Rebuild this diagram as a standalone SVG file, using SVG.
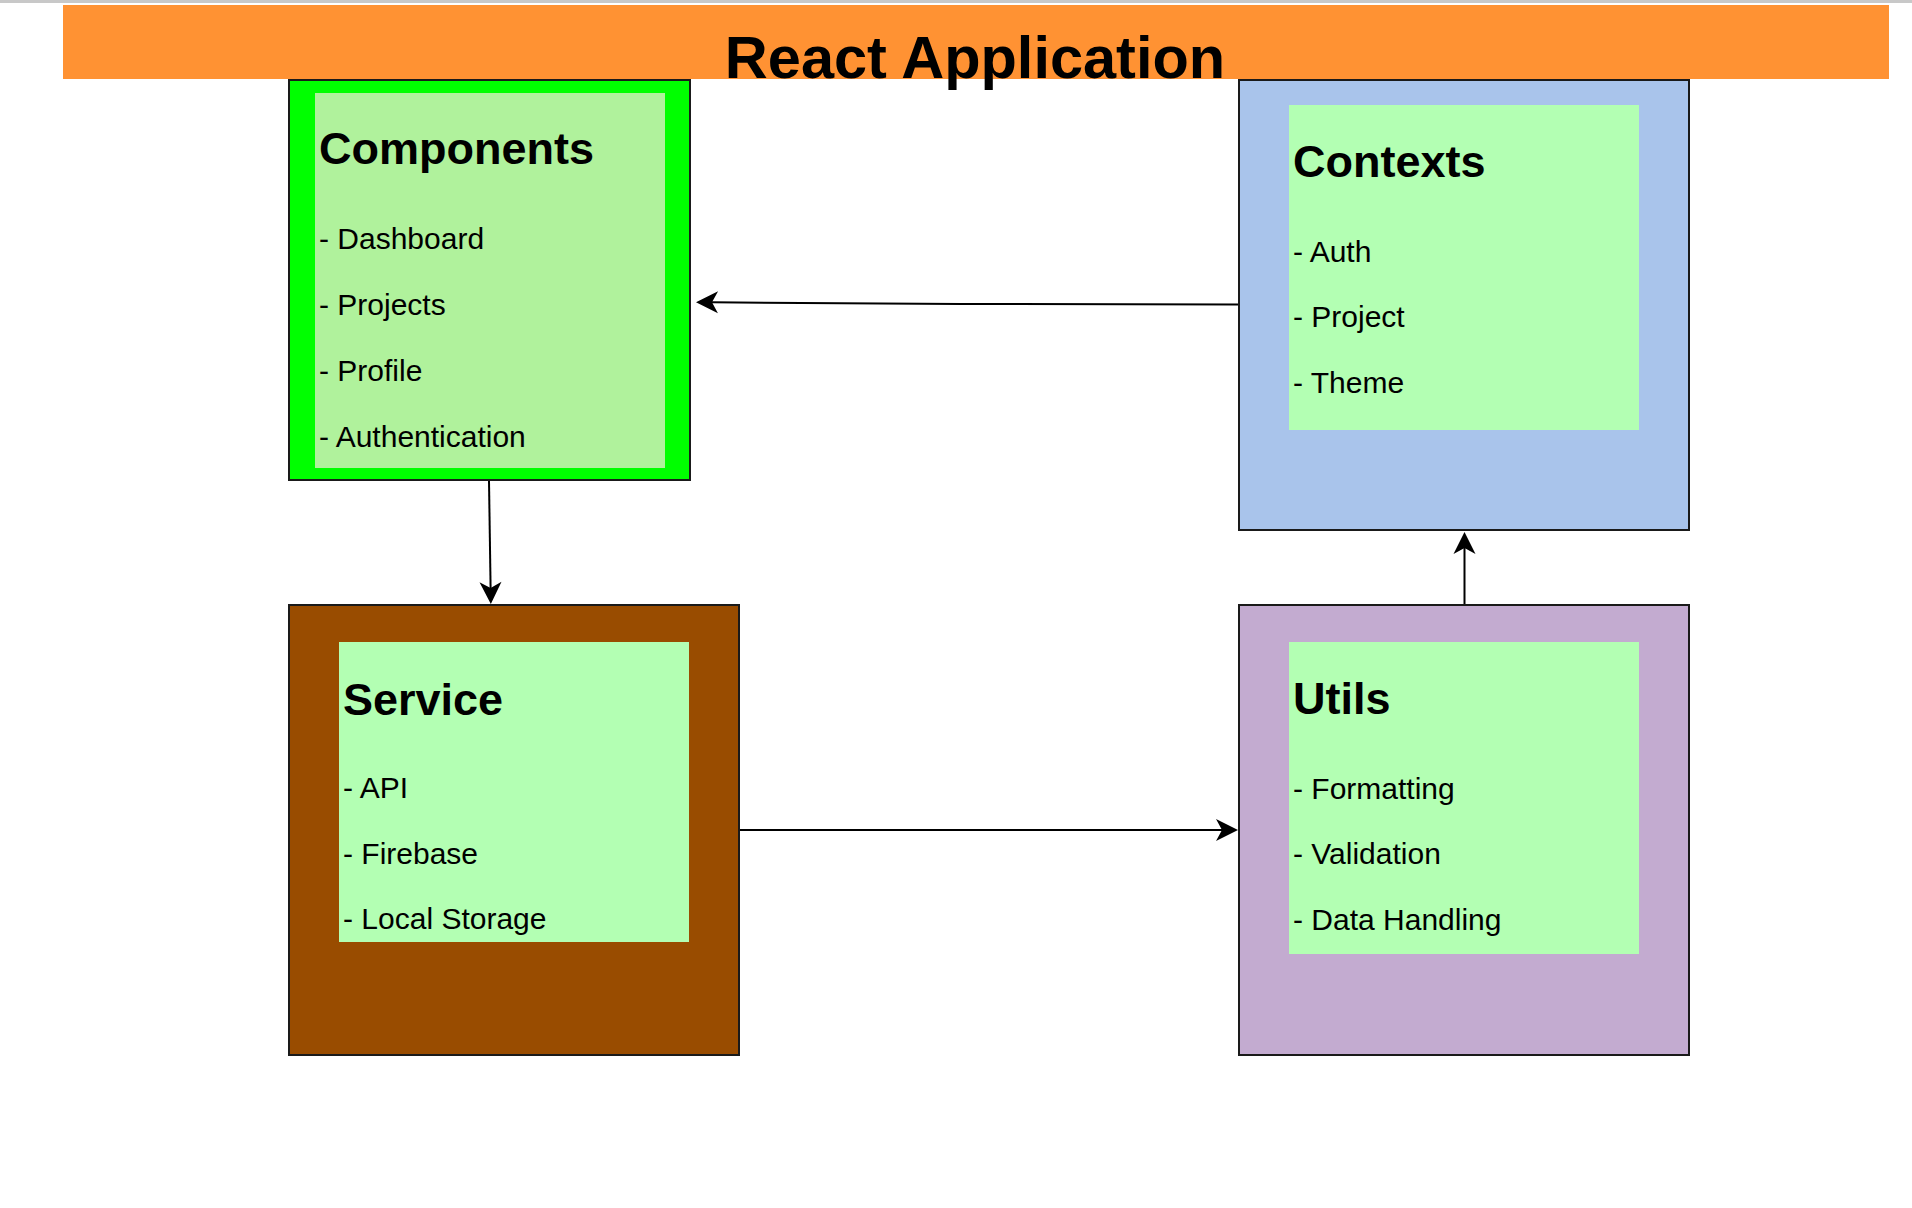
<svg xmlns="http://www.w3.org/2000/svg" width="1912" height="1208" viewBox="0 0 1912 1208">
<style>
.outer{stroke:#1a1a1a;stroke-width:2}
.inner{fill:#b3ffb3}
.ttl{font-family:"Liberation Sans",Arial,sans-serif;font-weight:bold;font-size:45px;fill:#000}
.itm{font-family:"Liberation Sans",Arial,sans-serif;font-size:30px;fill:#000}
.conn{fill:none;stroke:#000;stroke-width:2}
</style>
<defs>
<marker id="arr" viewBox="-23 -12 24 24" refX="-16" refY="0" markerWidth="24" markerHeight="24" orient="auto" markerUnits="userSpaceOnUse">
<path d="M0,0 L-22,-11 L-16,0 L-22,11 Z" fill="#000"/>
</marker>
</defs>
<rect x="0" y="0" width="1912" height="1208" fill="#fff"/>
<rect x="0" y="0" width="1912" height="3" fill="#c8c8c8"/>
<g id="react-app">
<rect x="63" y="5" width="1826" height="74" fill="#ff9233"/>
<text x="975" y="78" text-anchor="middle" font-family="Liberation Sans, Arial, sans-serif" font-weight="bold" font-size="59.5">React Application</text>
</g>
<g id="components">
<rect class="outer" x="289" y="80" width="401" height="400" fill="#00ff00"/>
<rect x="315" y="93" width="350" height="375" fill="#b0f29c"/>
<text class="ttl" x="319" y="164">Components</text>
<text class="itm" x="319" y="249">- Dashboard</text>
<text class="itm" x="319" y="315">- Projects</text>
<text class="itm" x="319" y="381">- Profile</text>
<text class="itm" x="319" y="447">- Authentication</text>
</g>
<g id="contexts">
<rect class="outer" x="1239" y="80" width="450" height="450" fill="#a9c4eb"/>
<rect class="inner" x="1289" y="105" width="350" height="325"/>
<text class="ttl" x="1293" y="177">Contexts</text>
<text class="itm" x="1293" y="262">- Auth</text>
<text class="itm" x="1293" y="327">- Project</text>
<text class="itm" x="1293" y="393">- Theme</text>
</g>
<g id="service">
<rect class="outer" x="289" y="605" width="450" height="450" fill="#994c00"/>
<rect class="inner" x="339" y="642" width="350" height="300"/>
<text class="ttl" x="343" y="715">Service</text>
<text class="itm" x="343" y="798">- API</text>
<text class="itm" x="343" y="864">- Firebase</text>
<text class="itm" x="343" y="929">- Local Storage</text>
</g>
<g id="utils">
<rect class="outer" x="1239" y="605" width="450" height="450" fill="#c3abd0"/>
<rect class="inner" x="1289" y="642" width="350" height="312"/>
<text class="ttl" x="1293" y="714">Utils</text>
<text class="itm" x="1293" y="799">- Formatting</text>
<text class="itm" x="1293" y="864">- Validation</text>
<text class="itm" x="1293" y="930">- Data Handling</text>
</g>
<g id="connectors">
<path class="conn" d="M1238,304.5 L960,304 L712,302.3" marker-end="url(#arr)"/>
<path class="conn" d="M489,481 L490.6,588" marker-end="url(#arr)"/>
<path class="conn" d="M1464.5,604 L1464.5,548" marker-end="url(#arr)"/>
<path class="conn" d="M740,830 L1222,830" marker-end="url(#arr)"/>
</g>
</svg>
